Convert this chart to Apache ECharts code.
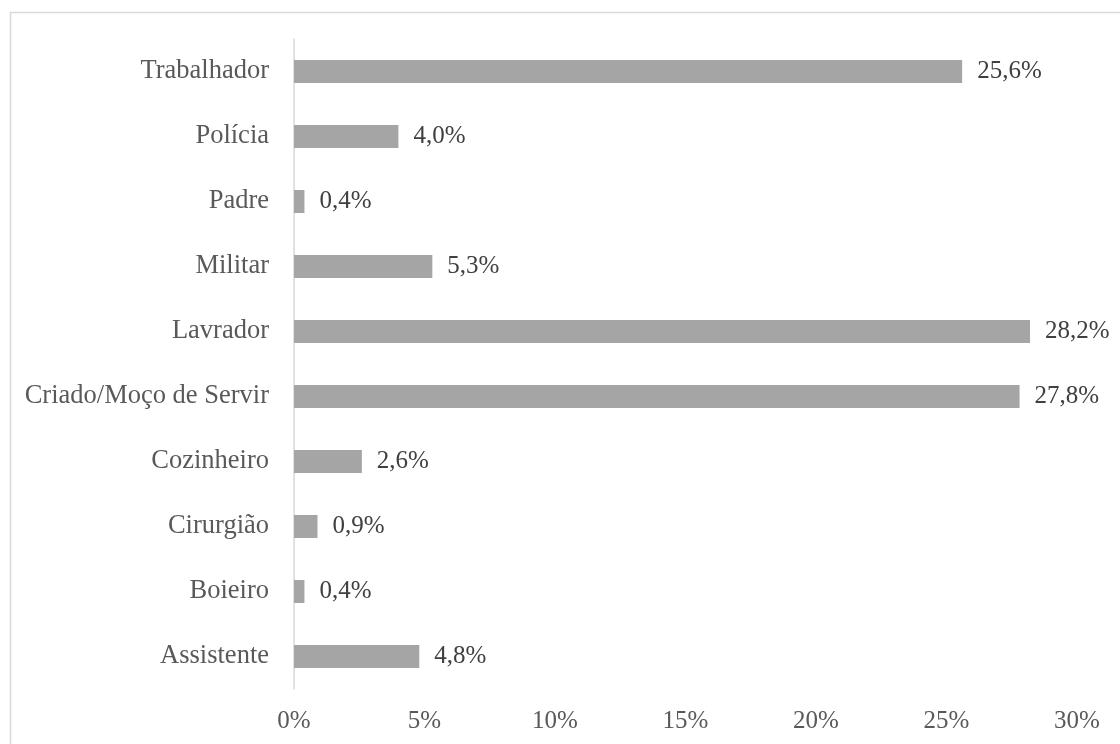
<!DOCTYPE html>
<html>
<head>
<meta charset="utf-8">
<script src="https://cdn.jsdelivr.net/npm/echarts@6/dist/echarts.min.js"></script>
<style>
  html, body { margin: 0; padding: 0; background: #fff; }
  #chart { width: 1120px; height: 744px; }
</style>
</head>
<body>
<div id="chart"></div>
<script>
// Occupations, listed bottom-to-top as they appear on the category axis
const categories = ['Assistente', 'Boieiro', 'Cirurgião', 'Cozinheiro', 'Criado/Moço de Servir',
  'Lavrador', 'Militar', 'Padre', 'Polícia', 'Trabalhador'];
// Share of each occupation, in percent
const shares = [4.8, 0.4, 0.9, 2.6, 27.8, 28.2, 5.3, 0.4, 4.0, 25.6];

const fontFamily = '"Liberation Serif", "Times New Roman", serif';
const pct = v => v.toFixed(1).replace('.', ',') + '%';

const chart = echarts.init(document.getElementById('chart'), null, { renderer: 'canvas' });
chart.setOption({
  animation: false,
  backgroundColor: '#fff',
  graphic: [{
    type: 'rect',
    left: 8, top: 10,
    shape: { width: 1200, height: 800 },
    style: { fill: 'none', stroke: '#d9d9d9', lineWidth: 1.5 },
    silent: true
  }],
  grid: { left: 294, right: 43, top: 39, bottom: 55, containLabel: false },
  xAxis: {
    type: 'value',
    min: 0, max: 30, interval: 5,
    axisLine: { show: false },
    axisTick: { show: false },
    splitLine: { show: false },
    axisLabel: {
      formatter: v => v + '%',
      color: '#595959', fontFamily, fontSize: 25, margin: 20
    }
  },
  yAxis: {
    type: 'category',
    data: categories,
    axisLine: { show: true, lineStyle: { color: '#d9d9d9', width: 1.5 } },
    axisTick: { show: false },
    axisLabel: { color: '#595959', fontFamily, fontSize: 26.5, margin: 25 }
  },
  series: [{
    type: 'bar',
    data: shares,
    barWidth: 23,
    itemStyle: { color: '#a5a5a5' },
    label: {
      show: true, position: 'right', distance: 15,
      formatter: p => pct(p.value),
      color: '#404040', fontFamily, fontSize: 25
    }
  }]
});
</script>
</body>
</html>
